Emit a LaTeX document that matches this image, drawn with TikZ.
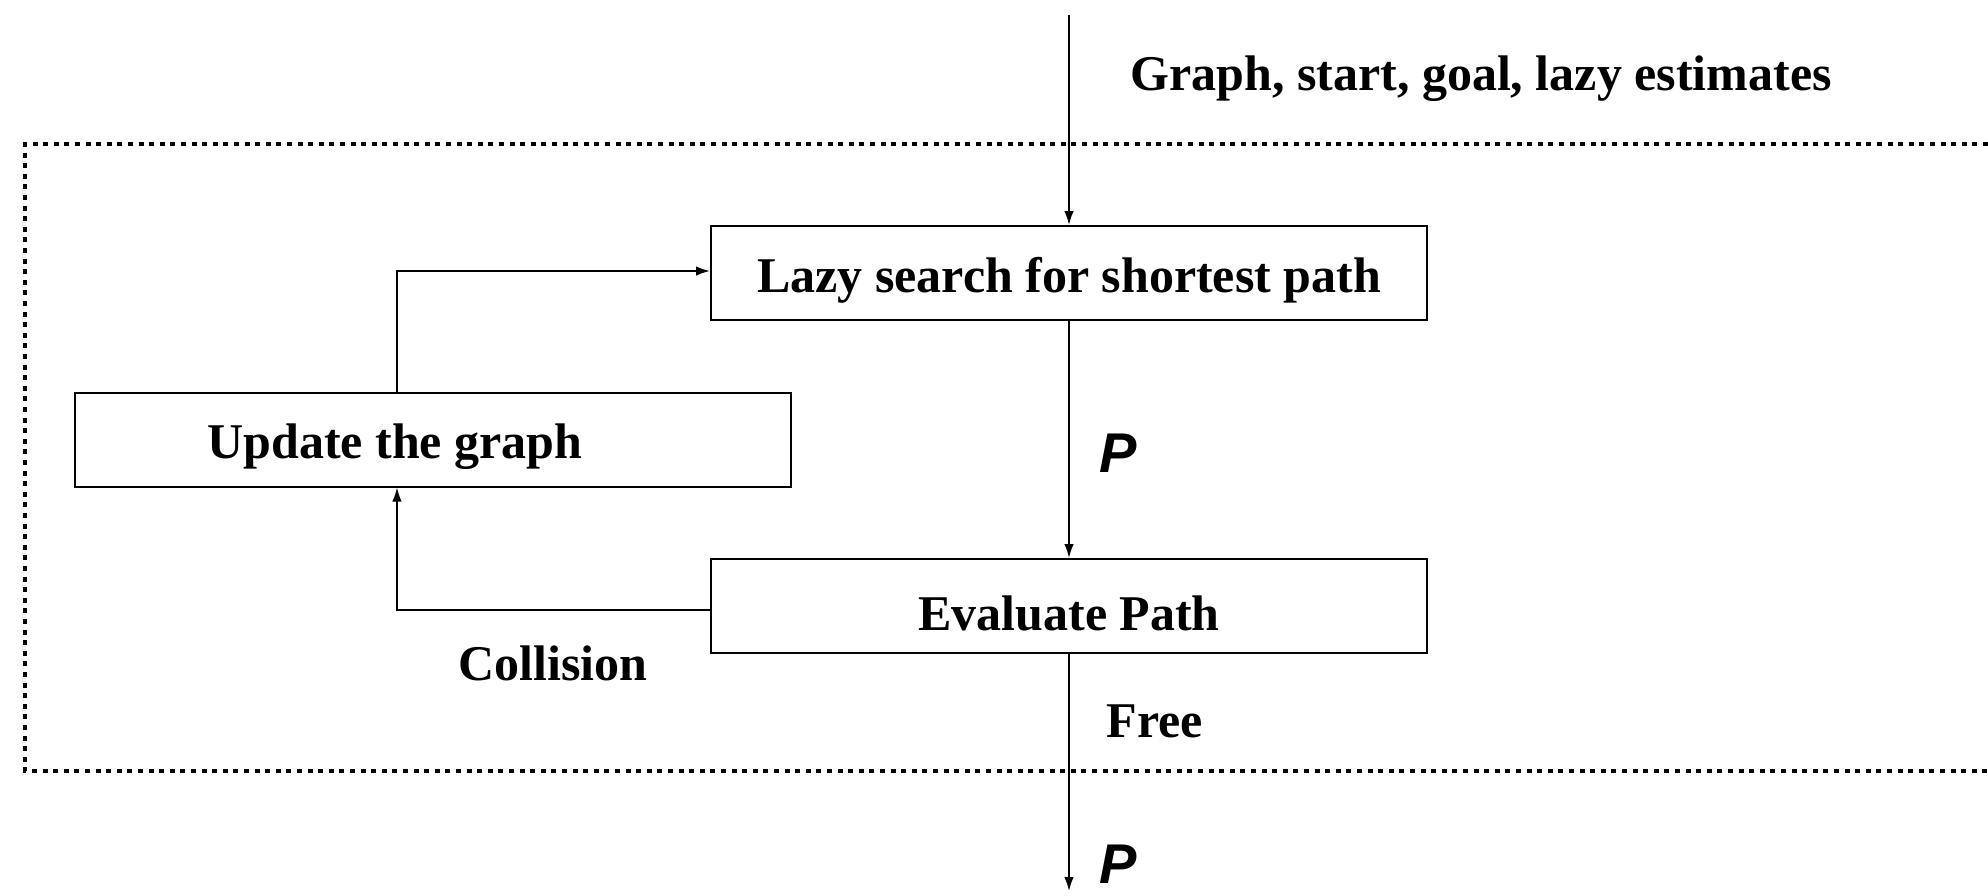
\documentclass[tikz,border=0pt]{standalone}
\usepackage{fontspec}
\setmainfont{Liberation Serif}
\newfontfamily\psans{Liberation Sans}
\usetikzlibrary{arrows.meta}
\newcommand{\lowtxt}[1]{\raisebox{-3.6pt}[\height][\depth]{#1}}
\begin{document}
\begin{tikzpicture}[x=0.5pt,y=-0.5pt,
  box/.style={draw,line width=1pt,minimum width=358pt,minimum height=47pt,inner sep=0pt,
    font=\fontsize{25}{30}\selectfont\bfseries},
  lbl/.style={font=\fontsize{25}{30}\selectfont\bfseries,inner sep=0pt},
  plbl/.style={font=\fontsize{28}{32}\selectfont\psans\bfseries\itshape,inner sep=0pt},
  conn/.style={line width=0.9pt,-{Latex[length=7pt,width=4.8pt]}},
  frame/.style={line width=2.4pt,dash pattern=on 2.5pt off 2.8pt}]
\useasboundingbox (0,0) rectangle (1988,895);
% frame
\draw[frame] (1988,144) -- (25,144) -- (25,771) -- (1988,771);
% nodes
\node[box] (lazy) at (1069,273) {\lowtxt{Lazy search for shortest path}};
\node[box] (update) at (433,439.5) {\lowtxt{Update the graph}\kern38pt};
\node[box] (eval) at (1069,606) {\lowtxt{Evaluate Path}};
\coordinate (in) at (1069,15);
\coordinate (out) at (1069,891);
\coordinate (c1) at (397,271);
\coordinate (c2) at (397,610);
% connectors
\draw[conn] (in) -- (lazy.north);
\draw[conn] (lazy.south) -- (eval.north);
\draw[conn] (eval.south) -- (out);
\draw[conn] (update.north -| c1) -- (c1) -- (c1 -| lazy.west);
\draw[conn] (c2 -| eval.west) -- (c2) -- (update.south -| c2);
% labels
\node[lbl,anchor=west] (tin) at (1130,79) {Graph, start, goal, lazy estimates};
\node[plbl] (p1) at (1118,453) {P};
\node[plbl] (p2) at (1118,864) {P};
\node[lbl] (coll) at (553,663) {Collision};
\node[lbl] (free) at (1155,721) {Free};
\end{tikzpicture}
\end{document}
